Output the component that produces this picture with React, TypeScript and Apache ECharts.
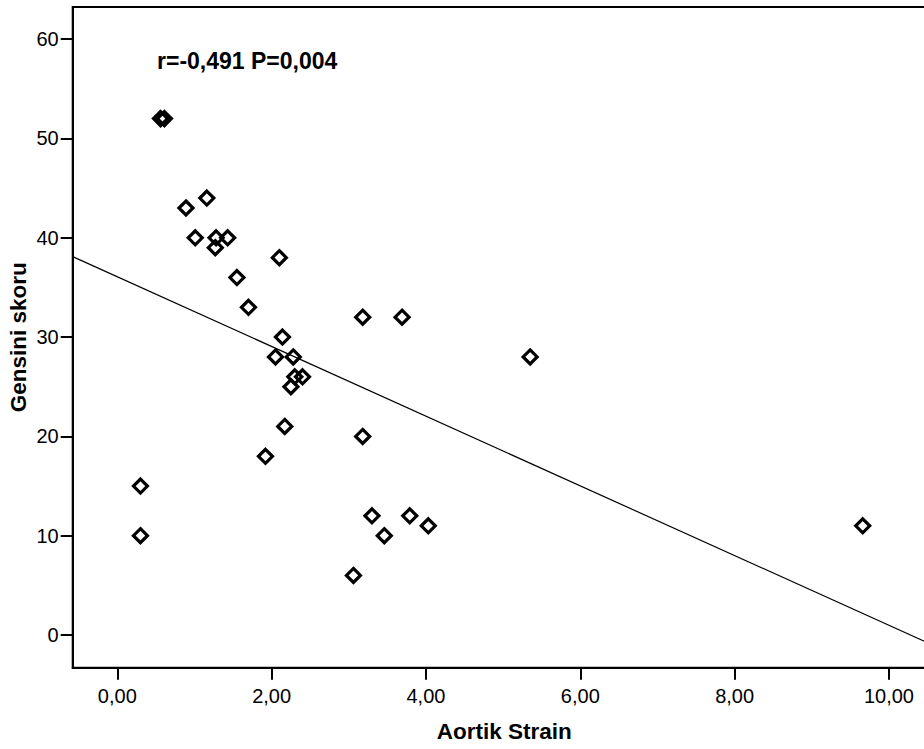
import React, { useEffect, useRef } from "react";
import * as echarts from "echarts";

// Scatter points: [Aortik Strain, Gensini skoru]
const strainValues = [0.56, 0.61, 0.89, 1.16, 1.01, 1.28, 1.27, 1.43, 2.1, 1.55, 1.7, 3.18, 3.69, 2.14, 2.05, 2.28, 2.3, 2.4, 2.25, 2.17, 1.92, 3.18, 0.3, 0.3, 3.06, 3.3, 3.46, 5.35, 3.79, 4.03, 9.66];
const gensiniValues = [52, 52, 43, 44, 40, 40, 39, 40, 38, 36, 33, 32, 32, 30, 28, 28, 26, 26, 25, 21, 18, 20, 15, 10, 6, 12, 10, 28, 12, 11, 11];

// Fit line end points
const fitLineX = [-0.578, 10.48];
const fitLineY = [38.1, -0.7];

const xTicks = [0, 2, 4, 6, 8, 10];
const yTicks = [0, 10, 20, 30, 40, 50, 60];

const annotation = "r=-0,491 P=0,004";
const xTitle = "Aortik Strain";
const yTitle = "Gensini skoru";

const FONT = "'Liberation Sans', Arial, Helvetica, sans-serif";

export default function App() {
  const ref = useRef<HTMLDivElement>(null);
  useEffect(() => {
    if (!ref.current) return;
    const chart = echarts.init(ref.current, undefined, { renderer: "svg" });
    const points = strainValues.map((x, i) => [x, gensiniValues[i]]);
    const line = fitLineX.map((x, i) => [x, fitLineY[i]]);
    chart.setOption({
      animation: false,
      backgroundColor: "#ffffff",
      grid: {
        left: 72.7,
        top: 7,
        right: -2,
        bottom: 81.3,
        containLabel: false,
        outerBoundsMode: "none",
        show: true,
        borderColor: "#000",
        borderWidth: 2,
        backgroundColor: "transparent",
      },
      xAxis: {
        type: "value",
        min: -0.578,
        max: 10.48,
        name: xTitle,
        nameLocation: "middle",
        nameGap: 52,
        nameMoveOverlap: false,
        nameTextStyle: {
          fontFamily: FONT,
          fontWeight: "bold",
          fontSize: 22.5,
          color: "#000",
          padding: [0, 0, 0, 10],
        },
        splitLine: { show: false },
        axisLine: { show: true, onZero: false, lineStyle: { color: "#000", width: 2 } },
        axisTick: {
          show: true,
          inside: false,
          length: 12,
          lineStyle: { color: "#000", width: 2 },
          customValues: xTicks,
        },
        axisLabel: {
          margin: 18,
          fontFamily: FONT,
          fontSize: 20,
          color: "#000",
          customValues: xTicks,
          formatter: (v: number) => v.toFixed(2).replace(".", ","),
        },
      },
      yAxis: {
        type: "value",
        min: -3.29,
        max: 63.24,
        name: yTitle,
        nameLocation: "middle",
        nameGap: 43,
        nameMoveOverlap: false,
        nameTextStyle: {
          fontFamily: FONT,
          fontWeight: "bold",
          fontSize: 22.5,
          color: "#000",
        },
        splitLine: { show: false },
        axisLine: { show: true, onZero: false, lineStyle: { color: "#000", width: 2 } },
        axisTick: {
          show: true,
          inside: false,
          length: 12,
          lineStyle: { color: "#000", width: 2 },
          customValues: yTicks,
        },
        axisLabel: {
          margin: 14,
          fontFamily: FONT,
          fontSize: 20,
          color: "#000",
          customValues: yTicks,
          formatter: (v: number) => String(v),
        },
      },
      graphic: [
        {
          type: "text",
          left: 157,
          top: 49,
          style: {
            text: annotation,
            fontFamily: FONT,
            fontWeight: "bold",
            fontSize: 23,
            fill: "#000",
          },
        },
      ],
      series: [
        {
          type: "line",
          data: line,
          symbol: "none",
          lineStyle: { color: "#000", width: 1.2 },
          silent: true,
          z: 1,
        },
        {
          type: "scatter",
          data: points,
          symbol: "diamond",
          symbolSize: [14, 14],
          itemStyle: {
            color: "rgba(255,255,255,0)",
            borderColor: "#000",
            borderWidth: 3.2,
            opacity: 1,
          },
          z: 2,
        },
      ],
    });
    return () => chart.dispose();
  }, []);
  return (
    <div
      ref={ref}
      style={{ position: "fixed", left: 0, top: 0, width: 924, height: 749, background: "#fff" }}
    />
  );
}
